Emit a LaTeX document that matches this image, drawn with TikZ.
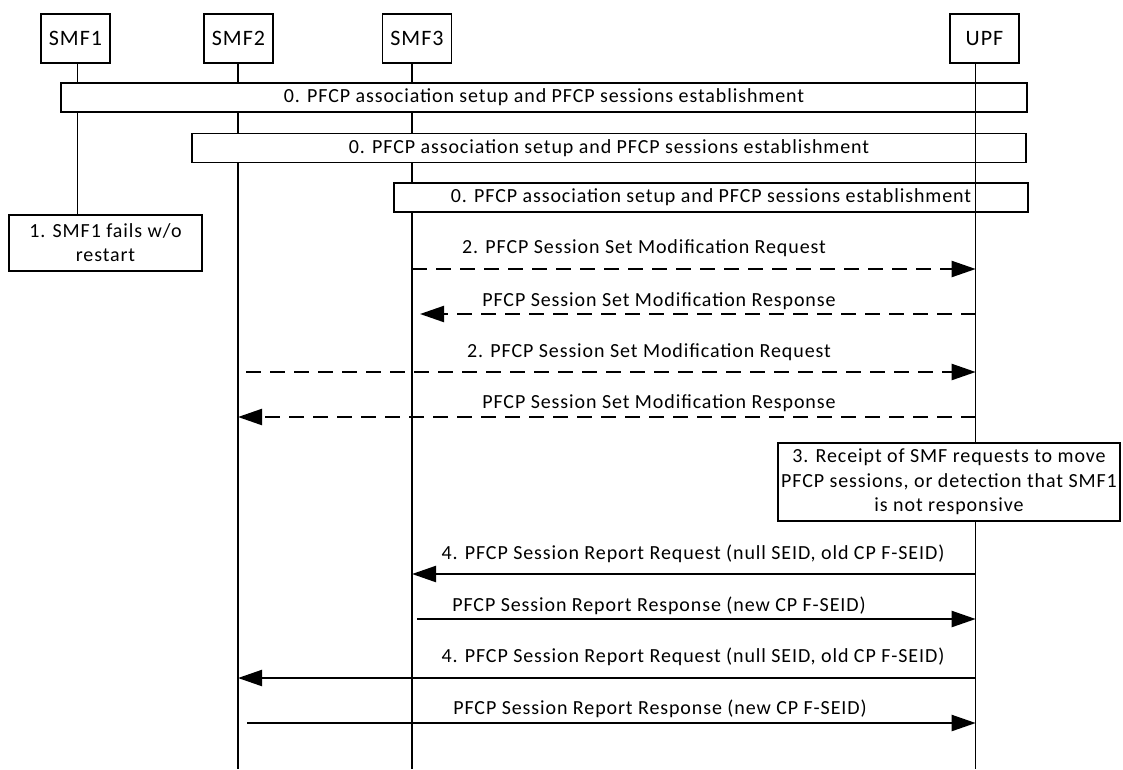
\documentclass[tikz,border=0pt]{standalone}
\usepackage{fontspec}
\setmainfont[LetterSpace=4.5]{Carlito}
\usetikzlibrary{arrows.meta}
\begin{document}
\begin{tikzpicture}[x=1pt,y=-1pt,
  box/.style={draw, line width=1.4pt, fill=white, inner sep=0pt, align=center},
  head/.style={box, minimum width=69pt, minimum height=49pt, font=\fontsize{22}{26}\selectfont},
  bar/.style={box, minimum height=29pt, font=\fontsize{20}{24}\selectfont},
  life/.style={line width=1.3pt},
  msg/.style={line width=2.2pt, -{Triangle[length=24pt,width=16pt]}},
  dmsg/.style={msg, dash pattern=on 15pt off 9pt},
  lbl/.style={font=\fontsize{20}{24}\selectfont, inner sep=0pt}]
\useasboundingbox (0,0) rectangle (1123,769);
% lifeline x positions
\coordinate (x1) at (77.7,0);
\coordinate (x2) at (238,0);
\coordinate (x3) at (412,0);
\coordinate (x4) at (975.7,0);
\coordinate (bot) at (0,769);
% headers
\node[head] (smf1) at (75.5,38.5) {SMF1};
\node[head] (smf2) at (238.5,38.5) {SMF2};
\node[head] (smf3) at (417,38.5) {SMF3};
\node[head] (upf) at (984.5,38.5) {UPF};
% step boxes
\node[box, minimum width=193pt, minimum height=56pt, font=\fontsize{20}{24}\selectfont] (step1) at (105.5,243) {1. SMF1 fails w/o\\restart};
\node[box, minimum width=342pt, minimum height=78pt, font=\fontsize{20}{24.5}\selectfont] (step3) at (949,482) {3. Receipt of SMF requests to move\\PFCP sessions, or detection that SMF1\\is not responsive};
% lifelines
\draw[life] (smf1.south -| x1) -- (step1.north -| x1);
\draw[life] (smf2.south -| x2) -- (bot -| x2);
\draw[life] (smf3.south -| x3) -- (bot -| x3);
% bars
\node[bar, minimum width=966pt] (bar1) at (544,97.5) {0. PFCP association setup and PFCP sessions establishment};
\node[bar, minimum width=834pt] (bar2) at (609,148) {0. PFCP association setup and PFCP sessions establishment};
\node[bar, minimum width=634pt] (bar3) at (711,197.5) {0. PFCP association setup and PFCP sessions establishment};
% UPF lifeline (drawn over the bars)
\draw[life] (upf.south -| x4) -- (step3.north -| x4);
\draw[life] (step3.south -| x4) -- (bot -| x4);
% message end points
\coordinate (m1a) at (412,269);   \coordinate (m1b) at (975.7,269);
\coordinate (m2a) at (975.7,314); \coordinate (m2b) at (420,314);
\coordinate (m3a) at (246,372);   \coordinate (m3b) at (975.7,372);
\coordinate (m4a) at (975.7,417); \coordinate (m4b) at (238,417);
\coordinate (m5a) at (975.7,574); \coordinate (m5b) at (412,574);
\coordinate (m6a) at (417,619);   \coordinate (m6b) at (975.7,619);
\coordinate (m7a) at (975.7,678); \coordinate (m7b) at (238,678);
\coordinate (m8a) at (247,723);   \coordinate (m8b) at (975.7,723);
% messages
\draw[dmsg] (m1a) -- (m1b);
\draw[dmsg] (m2a) -- (m2b);
\draw[dmsg] (m3a) -- (m3b);
\draw[dmsg] (m4a) -- (m4b);
\draw[msg] (m5a) -- (m5b);
\draw[msg] (m6a) -- (m6b);
\draw[msg] (m7a) -- (m7b);
\draw[msg] (m8a) -- (m8b);
% labels
\node[lbl] (t1) at (644,248) {2. PFCP Session Set Modification Request};
\node[lbl] (t2) at (659,301) {PFCP Session Set Modification Response};
\node[lbl] (t3) at (649,352) {2. PFCP Session Set Modification Request};
\node[lbl] (t4) at (659,403) {PFCP Session Set Modification Response};
\node[lbl] (t5) at (693,554) {4. PFCP Session Report Request (null SEID, old CP F-SEID)};
\node[lbl] (t6) at (659,606) {PFCP Session Report Response (new CP F-SEID)};
\node[lbl] (t7) at (693,657) {4. PFCP Session Report Request (null SEID, old CP F-SEID)};
\node[lbl] (t8) at (660,709) {PFCP Session Report Response (new CP F-SEID)};
\end{tikzpicture}
\end{document}
